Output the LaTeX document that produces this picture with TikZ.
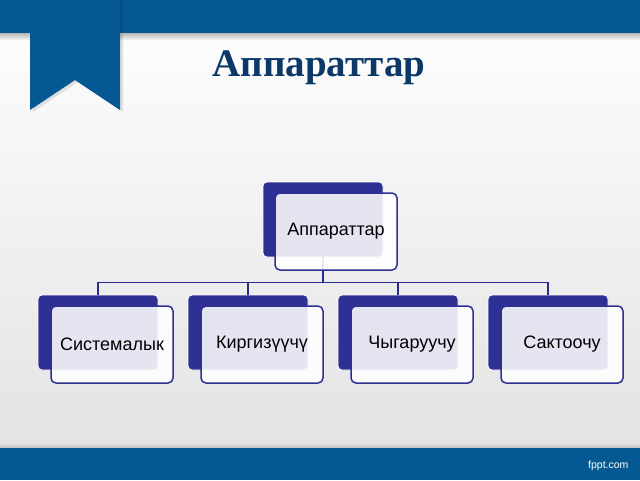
\documentclass[tikz,border=0pt]{standalone}
\usepackage{fontspec}
\setmainfont{Liberation Sans}
\newfontfamily\titlefont{Liberation Serif}
\usetikzlibrary{positioning}

\definecolor{barblue}{RGB}{5,89,146}
\definecolor{titleblue}{RGB}{12,56,104}
\definecolor{boxblue}{RGB}{46,48,148}
\definecolor{linkblue}{RGB}{40,42,140}

\begin{document}
\begin{tikzpicture}[
        x = 1pt, y = -1pt,
        node distance = 150pt,
        on grid,
        backbox/.style = {rectangle, rounded corners = 4pt, fill = boxblue, draw = white, line width = 0.8pt,
                          minimum width = 120pt, minimum height = 75pt, inner sep = 0pt},
        frontbox/.style = {rectangle, rounded corners = 5pt, draw = boxblue, line width = 1.5pt,
                           fill = white, fill opacity = 0.88, text opacity = 1,
                           minimum width = 122pt, minimum height = 77pt, inner sep = 0pt,
                           font = \fontsize{18}{21}\selectfont},
        link/.style = {draw = linkblue, line width = 1.5pt}
    ]

      \useasboundingbox (0,0) rectangle (640,480);

      % slide background
      \fill[top color = white, bottom color = gray!22] (0,0) rectangle (640,448);
      \fill[top color = gray!55, bottom color = white] (0,33) rectangle (640,41);
      \fill[top color = gray!22, bottom color = gray!50] (0,443) rectangle (640,448);
      \fill[barblue] (0,0) rectangle (640,33);
      \fill[barblue] (0,448) rectangle (640,480);

      % ribbon
      \fill[black, opacity = 0.1] (33,0) -- (123,0) -- (123,112) -- (78,82) -- (33,112) -- cycle;
      \fill[barblue] (30,0) -- (120,0) -- (120,110) -- (75,80) -- (30,110) -- cycle;

      \node[font = \titlefont\bfseries\fontsize{39}{44}\selectfont, text = titleblue, anchor = base]
            (title) at (319,76) {Аппараттар};
      \node[font = \fontsize{10.5}{12}\selectfont, text = white, anchor = east] (fppt) at (632,466) {fppt.com};

      % back boxes
      \node[backbox] (b_0) at (323,219.5) {};
      \node[backbox] (b_1) at (98,332.5) {};
      \node[backbox] (b_2) [right = of b_1] {};
      \node[backbox] (b_3) [right = of b_2] {};
      \node[backbox] (b_4) [right = of b_3] {};

      \foreach \i in {1,...,4}
          \draw[link] (b_0.south) -- ++(0,25) -| (b_\i.north);

      % front boxes
      \node[frontbox, shift = {(13,12)}] (f_0) at (b_0) {Аппараттар};
      \node[frontbox, shift = {(14,12)}] (f_1) at (b_1) {Системалык};
      \node[frontbox, shift = {(14,12)}] (f_2) at (b_2) {Киргизүүчү};
      \node[frontbox, shift = {(14,12)}] (f_3) at (b_3) {Чыгаруучу};
      \node[frontbox, shift = {(14,12)}] (f_4) at (b_4) {Сактоочу};

    \end{tikzpicture}
\end{document}
